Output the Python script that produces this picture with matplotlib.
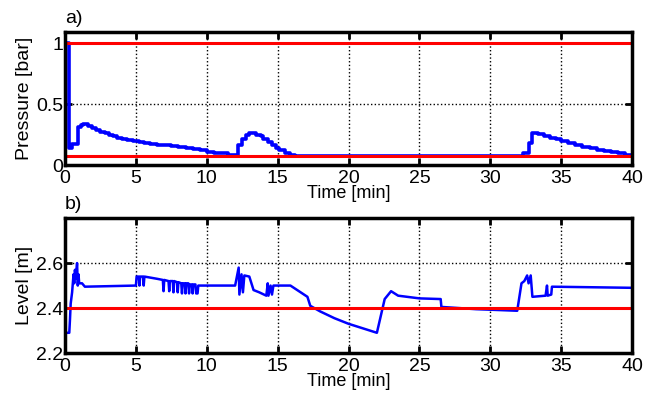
import matplotlib
matplotlib.use("Agg")
import matplotlib.pyplot as plt

plt.rcParams['font.family'] = ['Liberation Sans', 'DejaVu Sans']
plt.rcParams['font.size'] = 14

# pressure (stepwise samples) [min], [bar]
p_time = [0.23, 0.25, 0.5, 0.9, 1.1, 1.3, 1.6, 1.9, 2.2, 2.5, 2.8, 3.1, 3.4, 3.7,
          4.0, 4.4, 4.8, 5.2, 5.6, 6.0, 6.5, 7.0, 7.5, 8.0, 8.5, 9.0, 9.5, 10.0,
          10.5, 11.0, 11.5, 12.23, 12.46, 12.77, 13.0, 13.5, 13.8, 14.0, 14.3,
          14.6, 14.9, 15.1, 15.5, 15.9, 16.2, 32.33, 32.7, 32.97, 33.4, 33.8,
          34.2, 34.6, 35.0, 35.5, 36.0, 36.5, 37.0, 37.5, 38.0, 38.5, 39.0,
          39.5, 40.0]
p_val = [1.0, 0.14, 0.17, 0.31, 0.33, 0.34, 0.32, 0.30, 0.29, 0.27, 0.26, 0.245,
         0.235, 0.225, 0.215, 0.205, 0.195, 0.185, 0.178, 0.17, 0.165, 0.16,
         0.155, 0.148, 0.14, 0.13, 0.12, 0.11, 0.10, 0.095, 0.085, 0.165, 0.21,
         0.245, 0.26, 0.25, 0.235, 0.215, 0.19, 0.165, 0.14, 0.12, 0.10, 0.085,
         0.075, 0.095, 0.18, 0.265, 0.255, 0.24, 0.225, 0.21, 0.195, 0.18,
         0.165, 0.15, 0.14, 0.125, 0.115, 0.105, 0.095, 0.085, 0.08]
p_limits = [1.0, 0.075]

# tank level [min], [m]
l_time = [0.1, 0.3, 0.35, 0.4, 0.5, 0.6, 0.65, 0.7, 0.75, 0.85, 0.9, 0.95, 1.0,
          1.2, 1.4, 5.0, 5.05, 5.2, 5.25, 5.3, 5.5, 5.55, 5.6, 6.5, 6.9, 6.95,
          7.0, 7.3, 7.35, 7.4, 7.6, 7.65, 7.7, 7.9, 7.95, 8.0, 8.2, 8.25, 8.3,
          8.45, 8.5, 8.55, 8.7, 8.75, 8.8, 8.95, 9.0, 9.05, 9.2, 9.25, 9.35,
          9.4, 12.0, 12.25, 12.3, 12.45, 12.55, 12.65, 13.0, 13.3, 13.7, 14.2,
          14.3, 14.35, 14.5, 14.6, 14.7, 15.9, 17.1, 17.3, 18.0, 19.0, 20.0,
          21.0, 22.0, 22.55, 23.0, 23.5, 25.0, 26.5, 26.55, 29.0, 31.9, 32.2,
          32.4, 32.6, 32.7, 32.85, 32.97, 33.9, 34.0, 34.05, 34.3, 34.35, 40.0]
l_val = [2.29, 2.29, 2.35, 2.42, 2.47, 2.55, 2.51, 2.57, 2.53, 2.60, 2.50, 2.55,
         2.51, 2.51, 2.495, 2.50, 2.54, 2.54, 2.50, 2.54, 2.54, 2.50, 2.54, 2.53,
         2.525, 2.475, 2.525, 2.52, 2.475, 2.52, 2.52, 2.47, 2.52, 2.515, 2.47,
         2.515, 2.51, 2.465, 2.51, 2.51, 2.465, 2.51, 2.51, 2.465, 2.505, 2.505,
         2.465, 2.505, 2.505, 2.465, 2.465, 2.50, 2.50, 2.58, 2.46, 2.55, 2.47,
         2.545, 2.54, 2.48, 2.47, 2.455, 2.51, 2.455, 2.50, 2.46, 2.50, 2.50,
         2.45, 2.41, 2.385, 2.355, 2.33, 2.31, 2.29, 2.44, 2.475, 2.455, 2.443,
         2.44, 2.405, 2.395, 2.388, 2.51, 2.52, 2.545, 2.51, 2.545, 2.45,
         2.455, 2.50, 2.455, 2.46, 2.495, 2.49]
l_limit = 2.4


def style(ax, yticks, ylim):
    ax.set_xlim(0, 40)
    ax.set_ylim(*ylim)
    ax.set_xticks(range(0, 41, 5))
    ax.set_yticks(yticks)
    ax.grid(True, color='black', linestyle=':', linewidth=1)
    ax.tick_params(direction='in', top=True, right=True, length=5, width=2,
                   labelsize=14)
    ax.tick_params(axis='x', pad=3.5)
    ax.tick_params(axis='y', pad=1.5)
    for s in ax.spines.values():
        s.set_linewidth(2.5)
    ax.set_xlabel('Time [min]', fontsize=13, labelpad=-1)


fig = plt.figure(figsize=(6.47, 3.98), dpi=100)
ax1 = fig.add_axes([0.1005, 0.5854, 0.8764, 0.334])
ax2 = fig.add_axes([0.1005, 0.113, 0.8764, 0.339])

ax1.plot(p_time, p_val, color='#0000ff', linewidth=2.6, drawstyle='steps-post')
for v in p_limits:
    ax1.axhline(v, color='#ff0000', linewidth=2.2)
style(ax1, [0, 0.5, 1], (0, 1.09))
ax1.set_yticklabels(['0', '0.5', '1'])
ax1.set_ylabel('Pressure [bar]', labelpad=2)
ax1.text(0, 1.04, 'a)', transform=ax1.transAxes, ha='left', va='bottom')

ax2.plot(l_time, l_val, color='#0000ff', linewidth=1.8)
ax2.axhline(l_limit, color='#ff0000', linewidth=2.2)
style(ax2, [2.2, 2.4, 2.6], (2.2, 2.8))
ax2.set_ylabel('Level [m]', labelpad=2)
ax2.text(0, 1.04, 'b)', transform=ax2.transAxes, ha='left', va='bottom')

fig.savefig('out.png', dpi=100)
